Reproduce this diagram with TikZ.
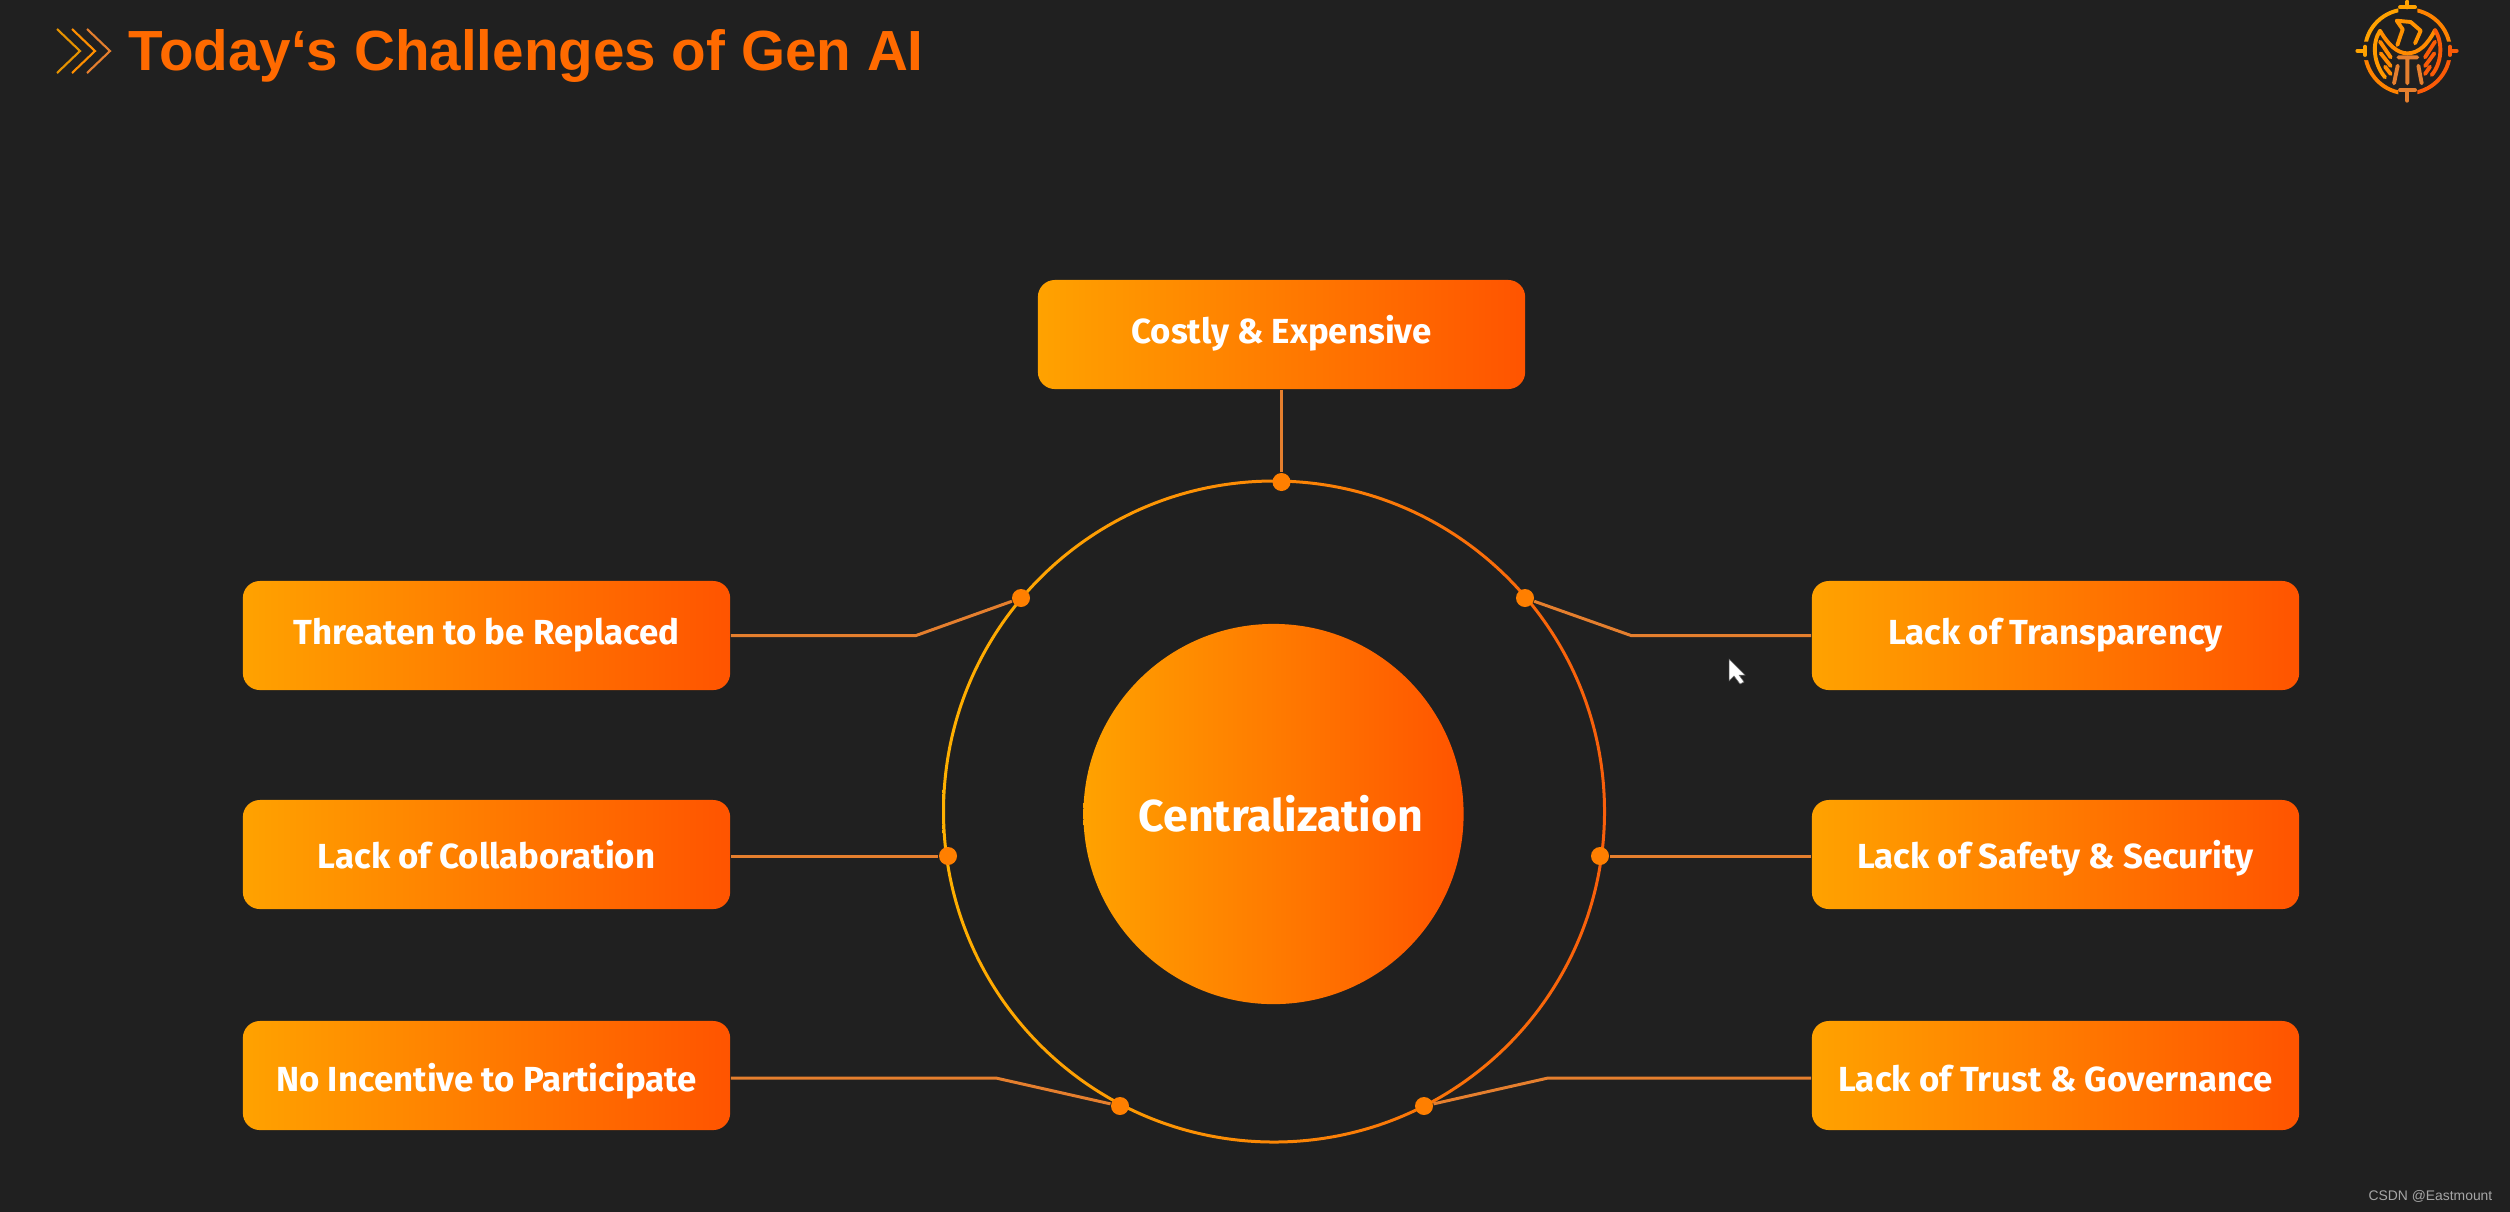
\documentclass[tikz,border=0pt]{standalone}
\usepackage{fontspec}
\usepackage{xcolor}
\newfontfamily\titlefont{Liberation Sans}
\newfontfamily\boxfont{Fira Sans}
\definecolor{bgdark}{HTML}{202020}
\definecolor{warm}{HTML}{FFA200}
\definecolor{hot}{HTML}{FF5400}
\definecolor{wire}{HTML}{E57F2E}
\definecolor{titleorange}{HTML}{FF6A00}
\definecolor{dotorange}{HTML}{FF7F00}
\tikzset{
	challenge/.style={rectangle,rounded corners=0.17cm,left color=warm,right color=hot,minimum width=4.87cm,minimum height=1.09cm,inner sep=0pt},
	boxlabel/.style={anchor=base,inner sep=0pt,text=white,font=\boxfont\bfseries\fontsize{9.9}{12}\selectfont},
	core/.style={circle,left color=warm,right color=hot,minimum size=3.8cm,inner sep=0pt},
	joint/.style={circle,fill=dotorange,minimum size=0.18cm,inner sep=0pt},
	wireline/.style={wire,line width=0.85pt},
	logoline/.style={line width=1.1pt,line cap=round,line join=round}
}
\begin{document}
\begin{tikzpicture}[x=0.01cm,y=-0.01cm]
	\useasboundingbox (0,0) rectangle (2510,1211);
	\fill[bgdark] (-5,-5) rectangle (2515,1216);

	\foreach \x/\col in {57/warm!90!black,72/warm!75!hot,87/wire}{
		\draw[\col,line width=0.6pt] (\x,29) -- (\x+23,51) -- (\x,73);
	}
	\node[anchor=base west,inner sep=0pt,text=titleorange,font=\titlefont\bfseries\fontsize{16.1}{18}\selectfont] (title) at (128,70) {Today‘s Challenges of Gen AI};

	\node[challenge] (cost) at (1281.5,334.5) {};
	\node[boxlabel] (costlab) at (1281.5,343) {Costly \& Expensive};
	\foreach \name/\xpos/\ypos/\ybase/\lab in {threat/486.5/635.5/644/Threaten to be Replaced,collab/486.5/854.5/868/Lack of Collaboration,incent/486.5/1075.5/1091/No Incentive to Participate,transp/2055.5/635.5/644/Lack of Transparency,safety/2055.5/854.5/868/Lack of Safety \& Security,trust/2055.5/1075.5/1091/Lack of Trust \& Governance}{
		\node[challenge] (\name) at (\xpos,\ypos) {};
		\node[boxlabel] (\name lab) at (\xpos,\ybase) {\lab};
	}

	\shade[even odd rule,left color=warm!85!yellow,right color=hot!75!wire] (1274,811.5) circle (332) (1274,811.5) circle (329);
	\node[core] (center) at (1273.5,814) {};
	\node[boxlabel,font=\boxfont\bfseries\fontsize{12.7}{15}\selectfont] (centerlab) at (1281,831) {Centralization};

	\foreach \name/\xpos/\ypos in {dottop/1281.5/482,dotul/1021/598,dotur/1525/598,dotl/948/856,dotr/1600/856,dotbl/1120/1106,dotbr/1424/1106}{
		\node[joint] (\name) at (\xpos,\ypos) {};
	}
	\coordinate (bendul) at (916,635.5);
	\coordinate (bendur) at (1631,635.5);
	\coordinate (bendbl) at (996,1078);
	\coordinate (bendbr) at (1548,1078);

	\draw[wireline] (cost) -- (dottop);
	\draw[wireline] (threat.east) -- (bendul) -- (dotul);
	\draw[wireline] (transp.west) -- (bendur) -- (dotur);
	\draw[wireline] (collab.east |- dotl) -- (dotl);
	\draw[wireline] (safety.west |- dotr) -- (dotr);
	\draw[wireline] (incent.east |- bendbl) -- (bendbl) -- (dotbl);
	\draw[wireline] (trust.west |- bendbr) -- (bendbr) -- (dotbr);

	\fill[white,draw=black!60,line width=0.15pt] (1729,659) -- (1729,681) -- (1734,676) -- (1740,684) -- (1744,682) -- (1739,675) -- (1745,675) -- cycle;

	\begin{scope}[shift={(2320,0)},scale=1/3]
		\draw[logoline,warm] (135,152) arc (180:270:127 and 124);
		\draw[logoline,warm!60!hot] (262,28) arc (270:360:128 and 124);
		\draw[logoline,warm!60!hot] (135,152) arc (180:90:127 and 128);
		\draw[logoline,hot!85!wire] (390,152) arc (0:90:128 and 128);
		\fill[bgdark] (235,10) rectangle (292,45) (235,260) rectangle (292,295) (115,125) rectangle (155,180) (370,125) rectangle (410,180);
		\draw[logoline,warm] (240,22) -- (285,22) (262,22) -- (262,5);
		\draw[logoline,wire] (240,270) -- (285,270) (262,270) -- (262,302);
		\draw[logoline,warm] (135,140) -- (135,165) (135,152) -- (112,152);
		\draw[logoline,hot!85!wire] (390,140) -- (390,165) (390,152) -- (410,152);
		\draw[logoline,warm!80!hot] (232,135) -- (248,88) -- (230,62) -- (272,66) -- (302,92) -- (285,130);
		\draw[logoline,warm!70!hot] (180,92) .. controls (205,135) and (232,160) .. (262,160) .. controls (295,160) and (322,135) .. (345,90);
		\draw[logoline,warm!90!hot] (180,92) .. controls (155,130) and (160,190) .. (195,232);
		\draw[logoline,hot!85!wire] (345,90) .. controls (370,130) and (365,190) .. (335,225);
		\draw[logoline,warm!70!hot] (180,125) -- (212,172) (182,160) -- (212,198) (195,200) -- (212,222);
		\draw[logoline,hot!85!wire] (345,125) -- (315,172) (343,160) -- (315,198) (330,200) -- (315,222);
		\draw[logoline,wire] (235,172) -- (292,172) (262,172) -- (262,250) (233,197) -- (222,250) (295,197) -- (305,250);
	\end{scope}

	\node[anchor=base east,inner sep=0pt,text=black!35,font=\titlefont\fontsize{3.95}{5}\selectfont] (mark) at (2493,1200) {CSDN @Eastmount};
\end{tikzpicture}
\end{document}
